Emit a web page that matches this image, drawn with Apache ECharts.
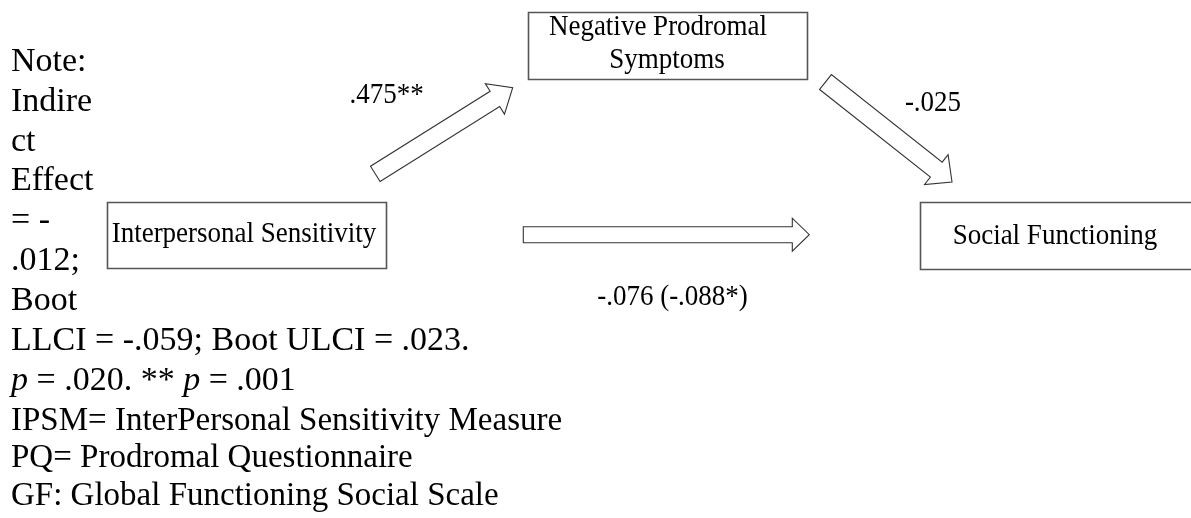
<!DOCTYPE html>
<html><head><meta charset="utf-8">
<script src="https://cdn.jsdelivr.net/npm/echarts@6/dist/echarts.min.js"></script>
<style>html,body{margin:0;padding:0;background:#fff;overflow:hidden}#c{width:1191px;height:518px;}</style>
</head><body><div id="c"></div>
<script>
// ---- Diagram content (mediation model) ----
const nodeLabels = [['Interpersonal Sensitivity'], ['Negative Prodromal', 'Symptoms'], ['Social Functioning']];
// node boxes in diagram units: [left, top, right, bottom]
const nodeBoxes = [[107, 202, 386, 268], [528, 12, 807, 79], [920, 202, 1196, 269]];
const nodeLabelAnchors = [[[244, 234]], [[658, 27], [667, 60]], [[1055, 236]]];
// paths: from -> to
const pathFrom = [[375.3, 173.8], [825.5, 82], [523.3, 234.7]];
const pathTo = [[512.7, 87.7], [952, 182], [809.3, 234.7]];
const pathCoefficients = ['.475**', '-.025', '-.076 (-.088*)'];
const pathLabelAnchors = [[386.5, 95], [933, 103], [672.5, 297]];
const noteLines = ['Note:', 'Indire', 'ct', 'Effect', '= -', '.012;', 'Boot',
  'LLCI = -.059; Boot ULCI = .023.', '{i|p} = .020. ** {i|p} = .001'];
const abbreviationLines = ['IPSM= InterPersonal Sensitivity Measure',
  'PQ= Prodromal Questionnaire', 'GF: Global Functioning Social Scale'];

// ---- styles ----
const SERIF = "'Liberation Serif', 'Times New Roman', serif";
const boxFont = 30, boxScaleX = 0.9;
const arrowShape = [{shaft: 18, head: 36, len: 21}, {shaft: 19, head: 38, len: 20}, {shaft: 16, head: 33, len: 17}];

function txt(x, y, text, size) {
  return {
    type: 'text', x: x, y: y, scaleX: boxScaleX, originX: 0, originY: 0,
    style: {text: text, fontFamily: SERIF, fontSize: size, fill: '#000',
      align: 'center', verticalAlign: 'middle', textAlign: 'center', textVerticalAlign: 'middle'}
  };
}

const chart = echarts.init(document.getElementById('c'), null, {renderer: 'canvas'});

const graphics = [];
const noteSize = 34;
noteLines.forEach((line, i) => {
  const base = 73 + 39.9 * i;
  graphics.push({
    type: 'text', x: 11, y: base - noteSize * 0.33,
    style: {text: line, fontFamily: SERIF, fontSize: noteSize, fill: '#000',
      align: 'left', verticalAlign: 'middle', textAlign: 'left', textVerticalAlign: 'middle',
      rich: {i: {fontStyle: 'italic', fontFamily: SERIF, fontSize: noteSize, fill: '#000'}}}
  });
});
const abbrBase = [432, 469.5, 507];
abbreviationLines.forEach((line, i) => {
  graphics.push({
    type: 'text', x: 11, y: abbrBase[i] - 33 * 0.33,
    style: {text: line, fontFamily: SERIF, fontSize: 33, fill: '#000',
      align: 'left', verticalAlign: 'middle', textAlign: 'left', textVerticalAlign: 'middle'}
  });
});

chart.setOption({
  animation: false,
  grid: {left: 0, right: 0, top: 0, bottom: 0, containLabel: false},
  xAxis: {type: 'value', min: 0, max: 1191, show: false},
  yAxis: {type: 'value', min: 0, max: 518, inverse: true, show: false},
  graphic: graphics,
  series: [
    {
      type: 'custom', name: 'paths', clip: false, silent: true,
      data: pathFrom.map((f, i) => [f[0], f[1], pathTo[i][0], pathTo[i][1], pathLabelAnchors[i][0], pathLabelAnchors[i][1]]),
      encode: {x: [0, 2], y: [1, 3]},
      renderItem: function (params, api) {
        const i = params.dataIndex;
        const a = api.coord([api.value(0), api.value(1)]);
        const b = api.coord([api.value(2), api.value(3)]);
        const s = arrowShape[i];
        const dx = b[0] - a[0], dy = b[1] - a[1];
        const L = Math.sqrt(dx * dx + dy * dy);
        const ux = dx / L, uy = dy / L, px = -uy, py = ux;
        const nx = b[0] - ux * s.len, ny = b[1] - uy * s.len;
        const hw = s.shaft / 2, hh = s.head / 2;
        const pts = [
          [a[0] + px * hw, a[1] + py * hw], [nx + px * hw, ny + py * hw], [nx + px * hh, ny + py * hh],
          [b[0], b[1]], [nx - px * hh, ny - py * hh], [nx - px * hw, ny - py * hw], [a[0] - px * hw, a[1] - py * hw]
        ];
        const lp = api.coord([api.value(4), api.value(5)]);
        return {type: 'group', children: [
          {type: 'polygon', shape: {points: pts}, style: {fill: '#fff', stroke: '#333', lineWidth: 1.1}},
          txt(lp[0], lp[1], pathCoefficients[i], boxFont)
        ]};
      }
    },
    {
      type: 'custom', name: 'nodes', clip: false, silent: true,
      data: nodeBoxes.map(b => b.slice()),
      encode: {x: [0, 2], y: [1, 3]},
      renderItem: function (params, api) {
        const i = params.dataIndex;
        const p0 = api.coord([api.value(0), api.value(1)]);
        const p1 = api.coord([api.value(2), api.value(3)]);
        const children = [{
          type: 'rect',
          shape: {x: Math.round(p0[0]) + 0.5, y: Math.round(p0[1]) + 0.5,
            width: Math.round(p1[0] - p0[0]), height: Math.round(p1[1] - p0[1])},
          style: {fill: '#fff', stroke: '#555', lineWidth: 1.6}
        }];
        nodeLabels[i].forEach((line, k) => {
          const c = api.coord(nodeLabelAnchors[i][k]);
          children.push(txt(c[0], c[1], line, boxFont));
        });
        return {type: 'group', children: children};
      }
    }
  ]
});
</script>
</body></html>
